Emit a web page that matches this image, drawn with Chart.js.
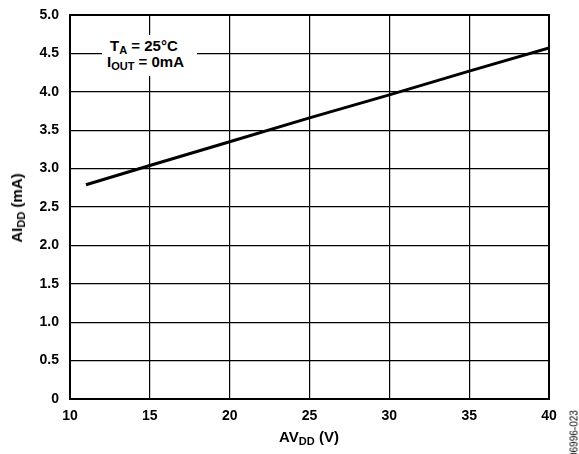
<!DOCTYPE html>
<html><head><meta charset="utf-8">
<script src="https://cdn.jsdelivr.net/npm/chart.js@4"></script>
<style>
html,body{margin:0;padding:0;background:#fff;overflow:hidden;}
#wrap{position:relative;width:579px;height:454px;overflow:hidden;font-family:"Liberation Sans",Arial,sans-serif;font-weight:bold;color:#000;}
canvas{position:absolute;left:0;top:0;}
.lbl{position:absolute;white-space:nowrap;font-size:15px;line-height:1;}
.lbl sub{font-size:11px;vertical-align:-3px;}
#ann{position:absolute;left:102px;top:35px;width:95px;height:41px;background:#fff;}
#ytitle{left:18px;top:208px;transform:translate(-50%,-50%) rotate(-90deg);}
#xtitle{left:309px;top:438px;transform:translate(-50%,-50%);}
#wm{position:absolute;left:574px;top:434px;transform:translate(-50%,-50%) rotate(-90deg);font-weight:normal;font-size:10px;white-space:nowrap;}
</style></head>
<body>
<div id="wrap">
<canvas id="c" width="579" height="454"></canvas>
<div id="ann">
  <div class="lbl" style="left:8px;top:3px;">T<sub>A</sub> = 25°C</div>
  <div class="lbl" style="left:5px;top:19px;">I<sub>OUT</sub> = 0mA</div>
</div>
<div class="lbl" id="ytitle">AI<sub>DD</sub> (mA)</div>
<div class="lbl" id="xtitle">AV<sub>DD</sub> (V)</div>
<div id="wm">06996-023</div>
</div>
<script>
const avdd = [11, 15, 20, 25, 30, 35, 40];
const aidd = [2.79, 3.04, 3.35, 3.66, 3.96, 4.27, 4.57];
const xTicks = [10, 15, 20, 25, 30, 35, 40];
const yTicks = [0, 0.5, 1.0, 1.5, 2.0, 2.5, 3.0, 3.5, 4.0, 4.5, 5.0];

const tickFont = {family: '"Liberation Sans", Arial, sans-serif', weight: 'bold', size: 14};
new Chart(document.getElementById('c'), {
  type: 'line',
  data: {datasets: [{
    data: avdd.map((x, i) => ({x: x, y: aidd[i]})),
    borderColor: '#000', borderWidth: 3, pointRadius: 0, tension: 0, fill: false
  }]},
  options: {
    responsive: false, animation: false,
    layout: {padding: {left: 0, right: 30, top: 15, bottom: 0}},
    plugins: {legend: {display: false}, tooltip: {enabled: false}},
    scales: {
      x: {
        type: 'linear', min: 10, max: 40,
        afterBuildTicks: s => { s.ticks = xTicks.map(v => ({value: v})); },
        afterFit: s => { s.height = 55; s.paddingLeft = 0; s.paddingRight = 0; },
        ticks: {color: '#000', font: tickFont, padding: 9, maxRotation: 0, callback: v => String(v)},
        grid: {color: '#000', lineWidth: 1.2, drawTicks: false},
        border: {color: '#000', width: 2}
      },
      y: {
        type: 'linear', min: 0, max: 5,
        afterBuildTicks: s => { s.ticks = yTicks.map(v => ({value: v})); },
        afterFit: s => { s.width = 70; s.paddingTop = 0; s.paddingBottom = 0; },
        ticks: {color: '#000', font: tickFont, padding: 11, callback: v => v === 0 ? '0' : v.toFixed(1)},
        grid: {color: '#000', lineWidth: 1.2, drawTicks: false},
        border: {color: '#000', width: 2}
      }
    }
  },
  plugins: [{
    id: 'frame',
    afterDraw(chart) {
      const a = chart.chartArea, ctx = chart.ctx;
      ctx.save(); ctx.strokeStyle = '#000'; ctx.lineWidth = 2;
      ctx.strokeRect(a.left, a.top, a.right - a.left, a.bottom - a.top);
      ctx.restore();
    }
  }]
});
</script>
</body></html>
